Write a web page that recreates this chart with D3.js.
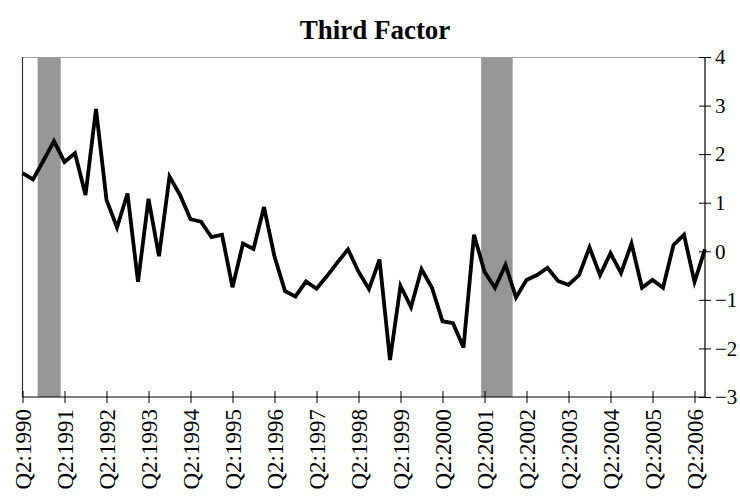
<!DOCTYPE html>
<html>
<head>
<meta charset="utf-8">
<script src="https://cdn.jsdelivr.net/npm/d3@7"></script>
<style>
  html, body { margin: 0; padding: 0; background: #fff; }
  svg { display: block; }
  svg text { font-family: "Liberation Serif", "Times New Roman", serif; }
</style>
</head>
<body>
<svg id="chart" width="740" height="498"></svg>
<script>
// Quarterly series, Q2:1990 through Q3:2006
const startQuarter = 1990.25;          // Q2:1990 as a decimal year
const factorValues = [
  1.61, 1.48, 1.87, 2.27, 1.84, 2.02, 1.16, 2.93, 1.06, 0.49,
  1.19, -0.63, 1.08, -0.10, 1.54, 1.16, 0.66, 0.61, 0.29, 0.34,
  -0.74, 0.16, 0.05, 0.91, -0.11, -0.82, -0.93, -0.62, -0.77, -0.51,
  -0.23, 0.04, -0.42, -0.78, -0.17, -2.24, -0.71, -1.15, -0.37, -0.75,
  -1.44, -1.48, -1.98, 0.34, -0.42, -0.75, -0.28, -0.95, -0.59, -0.49,
  -0.34, -0.61, -0.69, -0.49, 0.08, -0.49, -0.04, -0.45, 0.16, -0.75,
  -0.59, -0.75, 0.13, 0.34, -0.63, 0.04
];

// Recession periods (decimal years)
const recessionStarts = [1990.61, 2001.17];
const recessionEnds   = [1991.16, 2001.92];

// Axis ticks
const xTickYears  = d3.range(1990, 2007);
const xTickLabels = xTickYears.map(y => "Q2:" + y);
const yTicks      = [-3, -2, -1, 0, 1, 2, 3, 4];

const title = "Third Factor";

const svg = d3.select("#chart");
const margin = { left: 22.5, right: 35, top: 57, bottom: 101 };
const W = 740, H = 498;
const serif = "'Liberation Serif', 'Times New Roman', serif";

const dates = factorValues.map((v, i) => startQuarter + i * 0.25);

const x = d3.scaleLinear()
  .domain([startQuarter, dates[dates.length - 1]])
  .range([margin.left, W - margin.right]);
const y = d3.scaleLinear()
  .domain([-3, 4])
  .range([H - margin.bottom, margin.top]);

const x0 = x.range()[0], x1 = x.range()[1];
const y0 = y.range()[1], y1 = y.range()[0];

// Recession shading
svg.append("g")
  .selectAll("rect")
  .data(recessionStarts.map((s, i) => [s, recessionEnds[i]]))
  .join("rect")
  .attr("x", d => x(d[0]))
  .attr("width", d => x(d[1]) - x(d[0]))
  .attr("y", y0)
  .attr("height", y1 - y0)
  .attr("fill", "#969696");

// Plot frame: top edge grey, left edge dark
svg.append("line")
  .attr("x1", x0).attr("x2", x1).attr("y1", y0 + 0.5).attr("y2", y0 + 0.5)
  .attr("stroke", "#a0a0a0").attr("stroke-width", 1.2);
svg.append("line")
  .attr("x1", x0).attr("x2", x0).attr("y1", y0).attr("y2", y1)
  .attr("stroke", "#333").attr("stroke-width", 1.2);

// Series line
const line = d3.line()
  .x((d, i) => x(dates[i]))
  .y(d => y(d));
svg.append("path")
  .datum(factorValues)
  .attr("d", line)
  .attr("fill", "none")
  .attr("stroke", "#000")
  .attr("stroke-width", 3.8)
  .attr("stroke-linejoin", "miter")
  .attr("stroke-miterlimit", 4);

// Bottom axis
const xAxis = d3.axisBottom(x)
  .tickValues(xTickYears.map(yr => yr + 0.25))
  .tickSize(6)
  .tickFormat((d, i) => xTickLabels[i]);
const gx = svg.append("g")
  .attr("transform", `translate(0,${y1})`)
  .call(xAxis)
  .attr("font-family", serif)
  .attr("font-size", 23);
gx.select(".domain").attr("stroke", "#000").attr("stroke-width", 1.2)
  .attr("d", `M${x0},0H${x1}`);
gx.selectAll(".tick line")
  .attr("y1", -6).attr("y2", 6)
  .attr("stroke", "#000").attr("stroke-width", 1);
gx.selectAll(".tick text")
  .attr("transform", "rotate(-90)")
  .attr("text-anchor", "end")
  .attr("x", -12)
  .attr("y", 0)
  .attr("dy", "0.33em")
  .attr("fill", "#000");

// Right axis
const yAxis = d3.axisRight(y)
  .tickValues(yTicks)
  .tickSize(6)
  .tickFormat(d3.format("d"));
const gy = svg.append("g")
  .attr("transform", `translate(${x1},0)`)
  .call(yAxis)
  .attr("font-family", serif)
  .attr("font-size", 21);
gy.select(".domain").attr("stroke", "#000").attr("stroke-width", 1.2)
  .attr("d", `M0,${y0}V${y1}`);
gy.selectAll(".tick line")
  .attr("x1", -6).attr("x2", 6)
  .attr("stroke", "#000").attr("stroke-width", 1);
gy.selectAll(".tick text")
  .attr("x", 10)
  .attr("fill", "#000");

// Title
svg.append("text")
  .attr("x", 375)
  .attr("y", 39)
  .attr("text-anchor", "middle")
  .attr("font-family", serif)
  .attr("font-weight", "bold")
  .attr("font-size", 27)
  .text(title);
</script>
</body>
</html>
